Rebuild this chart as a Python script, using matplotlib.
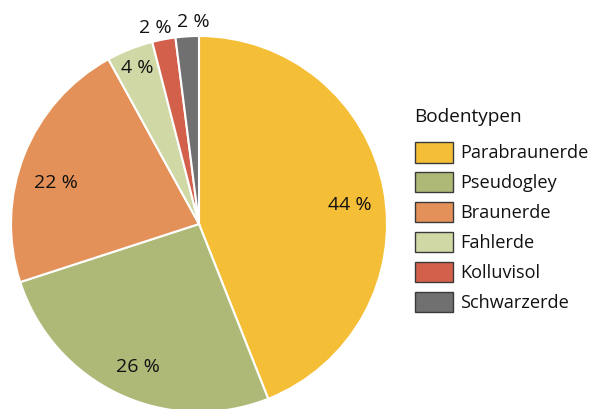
import numpy as np
import matplotlib
matplotlib.use("Agg")
import matplotlib.pyplot as plt
from matplotlib.patches import Patch

categories = ["Parabraunerde", "Pseudogley", "Braunerde", "Fahlerde", "Kolluvisol", "Schwarzerde"]
values = [44, 26, 22, 4, 2, 2]
colors = ["#F5BE37", "#AEB978", "#E39158", "#D0D8A6", "#D3604A", "#707070"]
label_r = [0.81, 0.83, 0.79, 0.89, 1.07, 1.075]
label_da = [-3.6, 2.0, 5.6, 0.0, 1.8, -1.9]

plt.rcParams['font.family'] = ['Open Sans', 'DejaVu Sans']

fig = plt.figure(figsize=(5.90, 4.09), dpi=100)
W, H = 590, 409
cx, cy, R = 199, 224, 188
ax = fig.add_axes([(cx - R) / W, (H - cy - R) / H, 2 * R / W, 2 * R / H])
wedges, _ = ax.pie(values, colors=colors, startangle=90, counterclock=False,
                   wedgeprops=dict(edgecolor='white', linewidth=1.5), radius=1.0)
ax.set_xlim(-1, 1)
ax.set_ylim(-1, 1)
ax.set_aspect('equal')
ax.axis('off')

for w, v, r, da in zip(wedges, values, label_r, label_da):
    ang = np.deg2rad((w.theta1 + w.theta2) / 2 + da)
    ax.text(r * np.cos(ang), r * np.sin(ang), f"{v} %", ha='center', va='center',
            fontsize=14, color='#111111', clip_on=False)

fs = 13.1
handles = [Patch(facecolor=c, edgecolor='#3a3a3a', linewidth=1.0) for c in colors]
leg = fig.legend(handles, categories, loc='upper left',
                 bbox_to_anchor=(411 / W, 1 - 138.5 / H), frameon=False,
                 fontsize=fs, handlelength=2.1, handleheight=1.35,
                 handletextpad=0.42, labelspacing=0.52, borderaxespad=0, borderpad=0.2)
for t in leg.get_texts():
    t.set_color('#111111')

fig.text(414 / W, 1 - 117 / H, "Bodentypen", ha='left', va='center',
         fontsize=13.7, color='#111111')

fig.savefig("out.png", dpi=100)
